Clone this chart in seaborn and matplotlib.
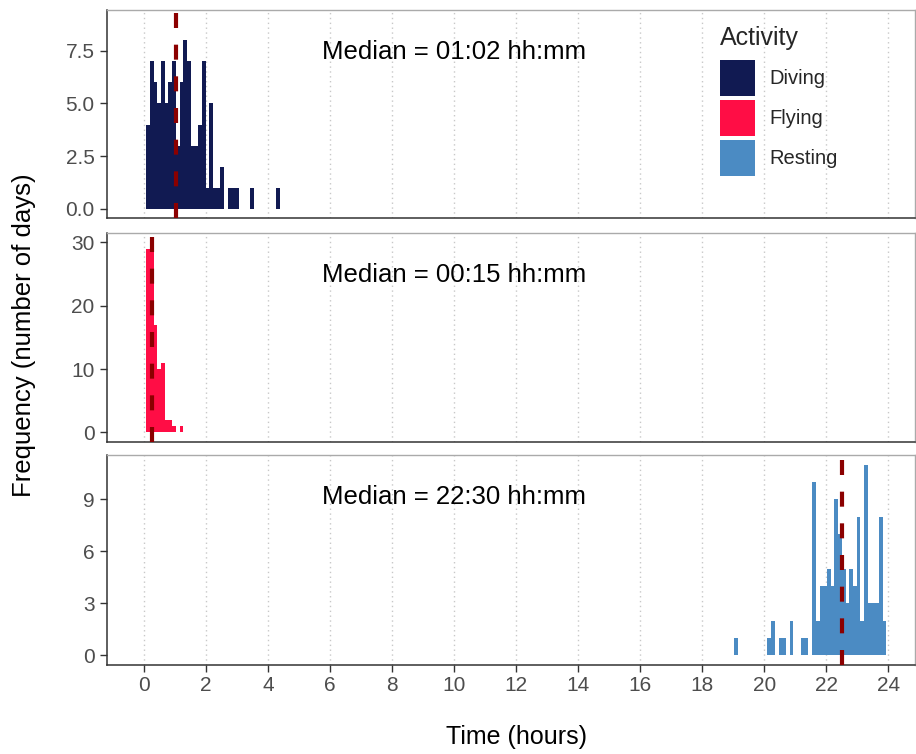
import numpy as np
import pandas as pd
import matplotlib
matplotlib.use("Agg")
import matplotlib.pyplot as plt
import matplotlib.transforms as mtransforms
from matplotlib.patches import Patch
import seaborn as sns

# ---------------- data ----------------
activities = ["Diving", "Flying", "Resting"]
colors = ["#111a52", "#ff0d45", "#4b8bc3"]

diving_time = [0.12, 0.24, 0.36, 0.48, 0.60, 0.72, 0.84, 0.96, 1.08, 1.20, 1.32, 1.44, 1.56,
               1.68, 1.80, 1.92, 2.04, 2.16, 2.28, 2.40, 2.52, 2.76, 2.88, 3.00, 3.48, 4.32]
diving_count = [4, 7, 6, 5, 7, 5, 6, 7, 3, 6, 8, 7, 3, 3, 4, 7, 1, 5, 1, 1, 2, 1, 1, 1, 1, 1]

flying_time = [0.12, 0.24, 0.36, 0.48, 0.60, 0.72, 0.84, 0.96, 1.20]
flying_count = [29, 30, 17, 10, 11, 2, 2, 1, 1]

resting_time = [19.08, 20.16, 20.28, 20.52, 20.64, 20.88, 21.24, 21.36, 21.60, 21.72, 21.84,
                21.96, 22.08, 22.20, 22.32, 22.44, 22.56, 22.68, 22.80, 22.92, 23.04, 23.16,
                23.28, 23.40, 23.52, 23.64, 23.76, 23.88]
resting_count = [1, 1, 2, 1, 1, 2, 1, 1, 10, 2, 4, 4, 5, 4, 9, 7, 5, 3, 5, 4, 8, 2, 11, 3, 3,
                 3, 8, 2]

median_hours = [1.0333, 0.25, 22.5]
median_labels = ["01:02", "00:15", "22:30"]

y_limits = [(-0.45, 9.45), (-1.5, 31.5), (-0.55, 11.55)]
y_ticks = [[0, 2.5, 5.0, 7.5], [0, 10, 20, 30], [0, 3, 6, 9]]
y_ticklabels = [["0.0", "2.5", "5.0", "7.5"], ["0", "10", "20", "30"], ["0", "3", "6", "9"]]
x_ticks = list(range(0, 25, 2))

BIN_WIDTH = 0.12

df = pd.concat([
    pd.DataFrame({"Activity": "Diving", "time": diving_time, "n": diving_count}),
    pd.DataFrame({"Activity": "Flying", "time": flying_time, "n": flying_count}),
    pd.DataFrame({"Activity": "Resting", "time": resting_time, "n": resting_count}),
], ignore_index=True)

# ---------------- plot ----------------
sns.set_theme(style="white")
plt.rcParams["font.family"] = ["Liberation Sans", "DejaVu Sans"]

W, H = 916, 754
fig = plt.figure(figsize=(W / 100, H / 100), dpi=100)

left_px, right_px = 107, 915
panels_px = [(10, 218), (233, 442), (455, 665)]

axes = []
for i, (act, col) in enumerate(zip(activities, colors)):
    top, bot = panels_px[i]
    ax = fig.add_axes([left_px / W, 1 - bot / H, (right_px - left_px) / W, (bot - top) / H])
    axes.append(ax)
    for xt in x_ticks:
        ax.axvline(xt, color="#c8c8c8", lw=1.0, ls=(0, (1, 2.5)), zorder=0)
    sub = df[df["Activity"] == act]
    sns.histplot(data=sub, x="time", weights="n", binwidth=BIN_WIDTH,
                 binrange=(-0.5 * BIN_WIDTH, 24 + 0.5 * BIN_WIDTH), color=col, ax=ax,
                 edgecolor="none", linewidth=0, alpha=1.0, stat="count", zorder=2)
    ax.axvline(median_hours[i], color="#8b0000", lw=3.0, ls=(0, (3.6, 4.0)), zorder=5)
    ax.set_ylim(*y_limits[i])
    ax.set_xlim(-1.2, 24.86)
    ax.set_xticks(x_ticks)
    ax.set_yticks(y_ticks[i])
    ax.set_yticklabels(y_ticklabels[i])
    ax.set_ylabel("")
    ax.set_xlabel("")
    if i < 2:
        ax.tick_params(axis="x", bottom=False, labelbottom=False)
    else:
        ax.tick_params(axis="x", bottom=True, length=5, width=1, color="#333333",
                       labelsize=15, labelcolor="#4d4d4d", pad=3)
    ax.tick_params(axis="y", left=True, length=5, width=1, color="#333333",
                   labelsize=15, labelcolor="#4d4d4d", pad=4)
    for s in ["left", "bottom"]:
        ax.spines[s].set_color("#333333")
        ax.spines[s].set_linewidth(1.1)
    for s in ["top", "right"]:
        ax.spines[s].set_color("#aaaaaa")
        ax.spines[s].set_linewidth(1.0)
    trans = mtransforms.blended_transform_factory(ax.transData, ax.transAxes)
    ax.text(10.0, 0.80, f"Median = {median_labels[i]} hh:mm", transform=trans,
            ha="center", va="center", fontsize=18.5, color="black")

fig.text(24 / W, 1 - 335 / H, "Frequency (number of days)", rotation=90,
         ha="center", va="center", fontsize=18.5, color="black")
fig.text(517 / W, 1 - 737 / H, "Time (hours)", ha="center", va="center",
         fontsize=18, color="black")

handles = [Patch(facecolor=c, edgecolor="none") for c in colors]
leg = axes[0].legend(handles, activities, title="Activity", loc="upper left",
                     bbox_to_anchor=(720 / W, 1 - 26 / H), bbox_transform=fig.transFigure,
                     frameon=False, fontsize=14.5, title_fontsize=18,
                     handlelength=1.75, handleheight=2.4, labelspacing=0.18,
                     handletextpad=0.7, borderaxespad=0, borderpad=0)
leg._legend_box.align = "left"
leg._legend_box.sep = 7

fig.savefig("out.png", dpi=100)
